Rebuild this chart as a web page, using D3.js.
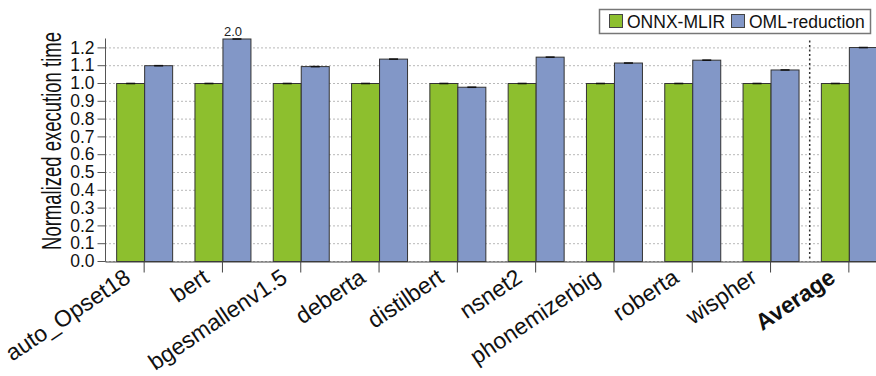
<!DOCTYPE html>
<html>
<head>
<meta charset="utf-8">
<script src="https://cdn.jsdelivr.net/npm/d3@7"></script>
<style>
  html, body { margin: 0; padding: 0; background: #fff; }
  svg { display: block; font-family: "Liberation Sans", Arial, sans-serif; }
</style>
</head>
<body>
<svg id="chart" width="876" height="376"></svg>
<script>
// Benchmarks and normalized execution times
const categories = ["auto_Opset18", "bert", "bgesmallenv1.5", "deberta", "distilbert",
                    "nsnet2", "phonemizerbig", "roberta", "wispher", "Average"];
const seriesNames = ["ONNX-MLIR", "OML-reduction"];
const onnxMlir     = [1.0, 1.0, 1.0, 1.0, 1.0, 1.0, 1.0, 1.0, 1.0, 1.0];
const omlReduction = [1.10, 2.0, 1.095, 1.137, 0.979, 1.148, 1.115, 1.131, 1.076, 1.202];
const yTicks = [0, 0.1, 0.2, 0.3, 0.4, 0.5, 0.6, 0.7, 0.8, 0.9, 1.0, 1.1, 1.2];
const yMax = 1.25;
const colors = ["#8dbf2e", "#8297c7"];

const svg = d3.select("#chart");
const plotLeft = 105, plotBottom = 261, plotTop = 38.5;
const step = 78.3;

const x = d3.scaleBand()
  .domain(categories)
  .range([plotLeft, plotLeft + step * categories.length])
  .paddingInner(0.285)
  .paddingOuter(0.1425);

const xs = d3.scaleBand().domain(seriesNames).range([0, x.bandwidth()]);

const y = d3.scaleLinear().domain([0, yMax]).range([plotBottom, plotTop]);

// Grid lines
svg.append("g")
  .selectAll("line")
  .data(yTicks)
  .join("line")
  .attr("x1", plotLeft).attr("x2", 876)
  .attr("y1", d => y(d) + 0.5).attr("y2", d => y(d) + 0.5)
  .attr("stroke", "#b8b8b8")
  .attr("stroke-width", 1)
  .attr("stroke-dasharray", "2,2");

// Separator before the average group
const sepX = x("Average") - x.step() * x.paddingInner() / 2;
svg.append("line")
  .attr("x1", sepX).attr("x2", sepX)
  .attr("y1", plotTop + 2).attr("y2", plotBottom)
  .attr("stroke", "#333")
  .attr("stroke-width", 1.5)
  .attr("stroke-dasharray", "2,2.5");

// Bars
const rows = categories.map((c, i) => ({ c, vals: [onnxMlir[i], omlReduction[i]] }));
const groups = svg.append("g")
  .selectAll("g")
  .data(rows)
  .join("g")
  .attr("transform", d => `translate(${x(d.c)},0)`);

groups.selectAll("rect")
  .data(d => d.vals.map((v, k) => ({ v, k })))
  .join("rect")
  .attr("x", d => xs(seriesNames[d.k]) + 0.5)
  .attr("y", d => y(Math.min(d.v, yMax)) + 0.5)
  .attr("width", xs.bandwidth())
  .attr("height", d => plotBottom - y(Math.min(d.v, yMax)))
  .attr("fill", d => colors[d.k])
  .attr("stroke", "#333")
  .attr("stroke-width", 1);

// Error caps
groups.selectAll("line.cap")
  .data(d => d.vals.map((v, k) => ({ v, k })))
  .join("line")
  .attr("class", "cap")
  .attr("x1", d => xs(seriesNames[d.k]) + xs.bandwidth() / 2 - 4)
  .attr("x2", d => xs(seriesNames[d.k]) + xs.bandwidth() / 2 + 5)
  .attr("y1", d => y(Math.min(d.v, yMax)) + 0.5)
  .attr("y2", d => y(Math.min(d.v, yMax)) + 0.5)
  .attr("stroke", "#111")
  .attr("stroke-width", 1.6);

// Value label for the clipped bar
rows.forEach(r => {
  r.vals.forEach((v, k) => {
    if (v > yMax) {
      svg.append("text")
        .attr("x", x(r.c) + xs(seriesNames[k]) + xs.bandwidth() / 2 - 3.5)
        .attr("y", plotTop - 3)
        .attr("text-anchor", "middle")
        .attr("font-size", 13)
        .attr("fill", "#222")
        .text(v.toFixed(1));
    }
  });
});

// Y axis
const yAxis = svg.append("g")
  .attr("transform", `translate(${plotLeft + 0.5},0)`)
  .call(d3.axisLeft(y).tickValues(yTicks).tickFormat(d3.format(".1f")).tickSize(8).tickPadding(3).tickSizeOuter(0));
yAxis.select(".domain").attr("stroke", "#555").attr("d", `M0,${plotTop}V${plotBottom + 0.5}`);
yAxis.selectAll(".tick line").attr("stroke", "#555");
yAxis.selectAll(".tick text")
  .attr("font-size", 17.5)
  .attr("font-family", "Liberation Sans, Arial, sans-serif")
  .attr("fill", "#111");

// X axis
const xAxis = svg.append("g")
  .attr("transform", `translate(0,${plotBottom + 0.5})`)
  .call(d3.axisBottom(x).tickSize(11).tickSizeOuter(0).tickFormat(""));
xAxis.select(".domain").attr("stroke", "#444");
xAxis.selectAll(".tick line").attr("stroke", "#444");

svg.append("g")
  .selectAll("text")
  .data(categories)
  .join("text")
  .attr("transform", d => `translate(${x(d) + x.bandwidth() / 2 - 12},${plotBottom + 20}) rotate(-34)`)
  .attr("text-anchor", "end")
  .attr("font-size", 23)
  .attr("font-weight", d => d === "Average" ? "bold" : "normal")
  .attr("fill", "#111")
  .text(d => d);

// Y axis title (tall, narrow lettering)
svg.append("text")
  .attr("transform", `translate(61,141) rotate(-90) scale(1,1.5)`)
  .attr("text-anchor", "middle")
  .attr("font-size", 18.5)
  .attr("fill", "#111")
  .text("Normalized execution time");

// Legend
const lg = svg.append("g");
lg.append("rect")
  .attr("x", 599.5).attr("y", 9.5).attr("width", 271).attr("height", 24)
  .attr("fill", "#fff").attr("stroke", "#777").attr("stroke-width", 1.5);
const legendX = [609, 731];
seriesNames.forEach((s, k) => {
  lg.append("rect")
    .attr("x", legendX[k] + 0.5).attr("y", 14.5).attr("width", 13).attr("height", 13)
    .attr("fill", colors[k]).attr("stroke", "#444").attr("stroke-width", 1);
  lg.append("text")
    .attr("x", legendX[k] + 18).attr("y", 27.5)
    .attr("font-size", 17.5)
    .attr("fill", "#111")
    .text(s);
});
</script>
</body>
</html>
